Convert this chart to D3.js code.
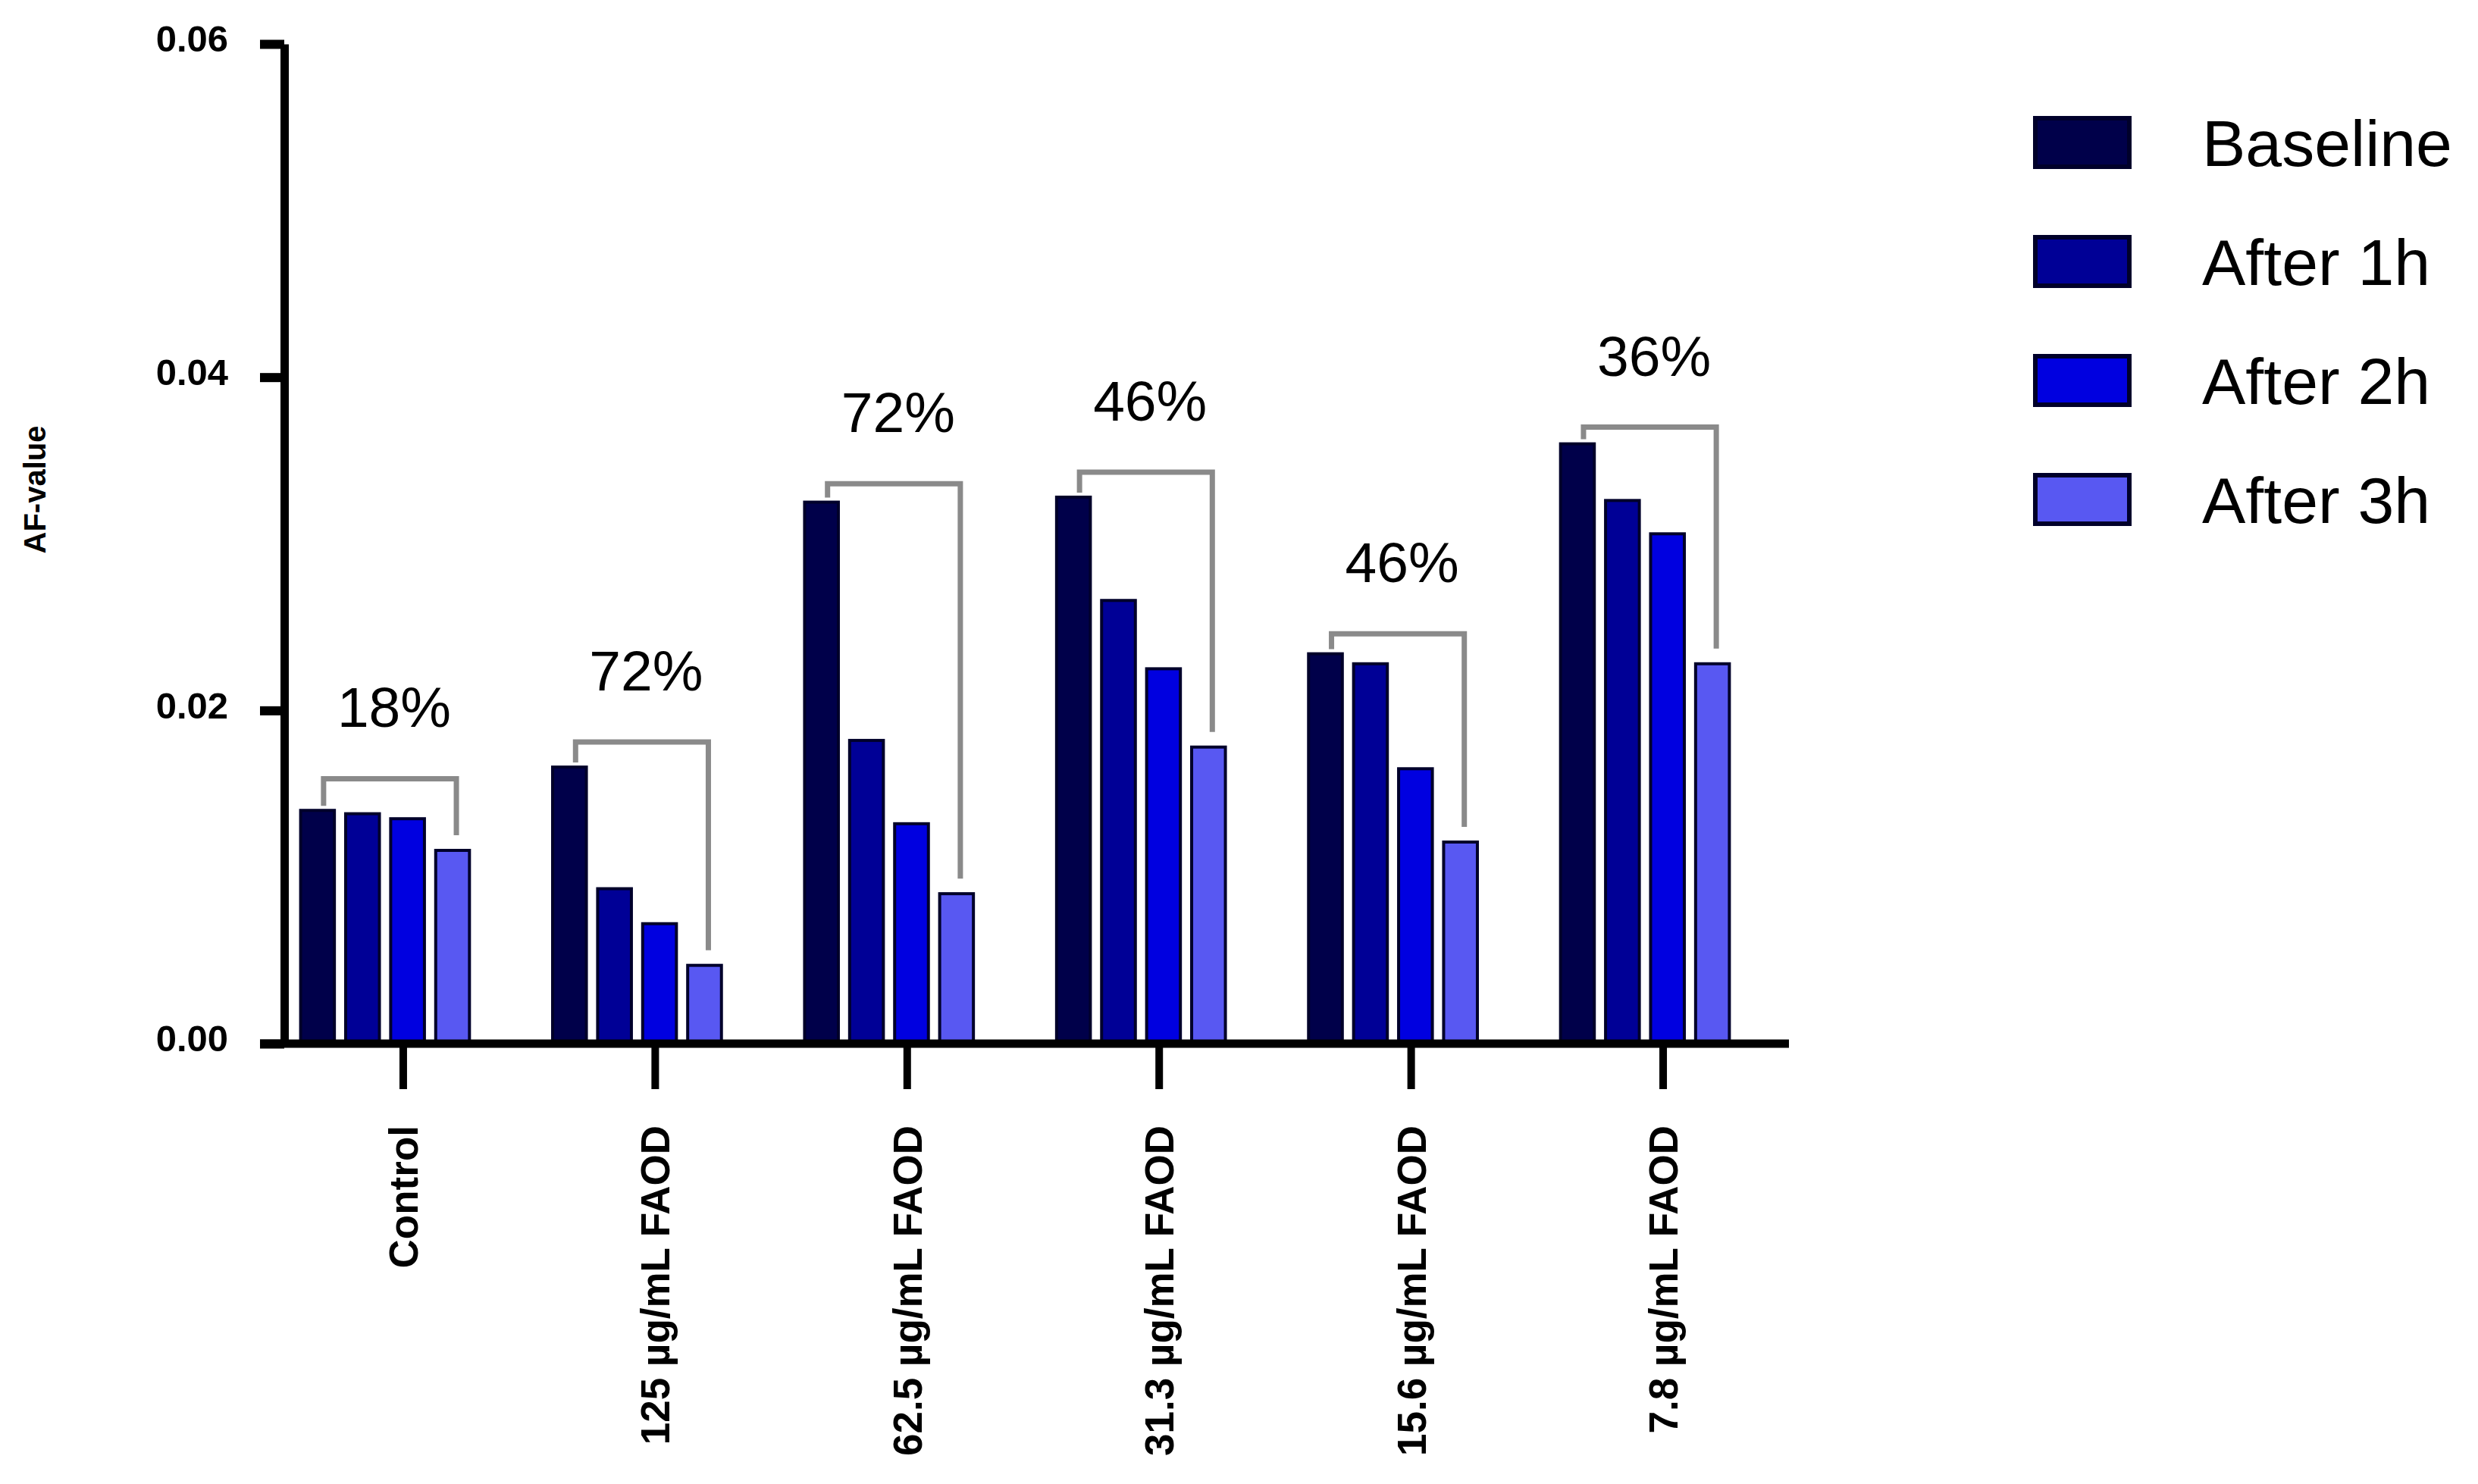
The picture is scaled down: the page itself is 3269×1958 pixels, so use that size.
<!DOCTYPE html>
<html>
<head>
<meta charset="utf-8">
<script src="https://cdn.jsdelivr.net/npm/d3@7"></script>
<style>
  html, body { margin: 0; padding: 0; background: #ffffff; }
  svg { display: block; }
</style>
</head>
<body>
<script>
// ---------------- data ----------------
const categories = ["Control", "125 µg/mL FAOD", "62.5 µg/mL FAOD", "31.3 µg/mL FAOD", "15.6 µg/mL FAOD", "7.8 µg/mL FAOD"];
const seriesNames = ["Baseline", "After 1h", "After 2h", "After 3h"];
const baseline = [0.0140, 0.0166, 0.0325, 0.0328, 0.0234, 0.0360];
const after1h  = [0.0138, 0.0093, 0.0182, 0.0266, 0.0228, 0.0326];
const after2h  = [0.0135, 0.0072, 0.0132, 0.0225, 0.0165, 0.0306];
const after3h  = [0.0116, 0.0047, 0.0090, 0.0178, 0.0121, 0.0228];
const reductionLabels = ["18%", "72%", "72%", "46%", "46%", "36%"];
const bracketLevels = [0.0159, 0.0181, 0.0336, 0.0343, 0.0246, 0.0370];
const yTicks = [0, 0.02, 0.04, 0.06];
const yTickLabels = ["0.00", "0.02", "0.04", "0.06"];
const yTitle = "AF-value";

const seriesValues = [baseline, after1h, after2h, after3h];
const colors = ["#00004a", "#000096", "#0000e0", "#5858f2"];

// ---------------- layout ----------------
const W = 3269, H = 1958;
const axisX = 375;
const y0 = 1377, yTop = 58;
const tickLen = 32;

const svg = d3.select("body").append("svg")
  .attr("width", W).attr("height", H)
  .style("background", "#fff");

const y = d3.scaleLinear().domain([0, 0.06]).range([y0, yTop]);

const x = d3.scaleBand()
  .domain(categories)
  .range([341.75, 2336.25])
  .paddingInner(0.33)
  .paddingOuter(0.165);

const xs = d3.scaleBand()
  .domain(seriesNames)
  .range([0, x.bandwidth()])
  .paddingInner(0.25)
  .paddingOuter(0);

// ---------------- bars ----------------
const groups = svg.append("g").selectAll("g")
  .data(categories)
  .join("g")
  .attr("transform", d => `translate(${x(d)},0)`);

groups.selectAll("rect")
  .data((d, i) => seriesNames.map((s, k) => ({ s, k, v: seriesValues[k][i] })))
  .join("rect")
  .attr("x", d => xs(d.s))
  .attr("width", xs.bandwidth())
  .attr("y", d => y(d.v))
  .attr("height", d => y0 - y(d.v))
  .attr("fill", d => colors[d.k])
  .attr("stroke", "#00002a")
  .attr("stroke-width", 4);

// ---------------- brackets and percentages ----------------
const bracketG = svg.append("g");
categories.forEach((c, i) => {
  const lx = x(c) + xs(seriesNames[0]) + xs.bandwidth() / 2 + 8;
  const rx = x(c) + xs(seriesNames[3]) + xs.bandwidth() / 2 + 5;
  const top = y(bracketLevels[i]);
  const lBot = y(baseline[i]) - 6;
  const rBot = y(after3h[i]) - 20;
  bracketG.append("path")
    .attr("d", `M${lx},${lBot} L${lx},${top} L${rx},${top} L${rx},${rBot}`)
    .attr("fill", "none")
    .attr("stroke", "#8a8a8a")
    .attr("stroke-width", 7);
  bracketG.append("text")
    .attr("x", x(c) + x.bandwidth() / 2 + 12)
    .attr("y", top - 68)
    .attr("text-anchor", "middle")
    .attr("font-family", "Liberation Sans, Arial, sans-serif")
    .attr("font-size", 75)
    .attr("fill", "#000")
    .text(reductionLabels[i]);
});

// ---------------- y axis ----------------
const yAxis = svg.append("g")
  .attr("transform", `translate(${axisX},0)`)
  .call(d3.axisLeft(y).tickValues(yTicks).tickFormat((d, i) => yTickLabels[i]).tickSize(tickLen).tickSizeOuter(0).tickPadding(42));
yAxis.select(".domain").attr("stroke", "#000").attr("stroke-width", 11);
yAxis.selectAll(".tick line").attr("stroke", "#000").attr("stroke-width", 12);
yAxis.selectAll(".tick text")
  .attr("font-family", "Liberation Sans, Arial, sans-serif")
  .attr("font-weight", "bold")
  .attr("font-size", 49)
  .attr("fill", "#000")
  .attr("dy", "0.2em");

// ---------------- x axis ----------------
svg.append("line")
  .attr("x1", axisX - tickLen).attr("x2", 2360)
  .attr("y1", y0).attr("y2", y0)
  .attr("stroke", "#000").attr("stroke-width", 11);

const xAxis = svg.append("g")
  .attr("transform", `translate(24,${y0})`)
  .call(d3.axisBottom(x).tickSize(60).tickSizeOuter(0));
xAxis.select(".domain").remove();
xAxis.selectAll(".tick line").attr("stroke", "#000").attr("stroke-width", 10);
xAxis.selectAll(".tick text")
  .attr("transform", "rotate(-90)")
  .attr("x", -108)
  .attr("y", 0)
  .attr("dy", "0.36em")
  .attr("text-anchor", "end")
  .attr("font-family", "Liberation Sans, Arial, sans-serif")
  .attr("font-weight", "bold")
  .attr("font-size", 53)
  .attr("fill", "#000");

// ---------------- y title ----------------
svg.append("text")
  .attr("transform", `translate(60,646) rotate(-90)`)
  .attr("text-anchor", "middle")
  .attr("font-family", "Liberation Sans, Arial, sans-serif")
  .attr("font-weight", "bold")
  .attr("font-size", 40)
  .attr("fill", "#000")
  .text(yTitle);

// ---------------- legend ----------------
const legend = svg.append("g").selectAll("g")
  .data(seriesNames)
  .join("g")
  .attr("transform", (d, i) => `translate(2685,${188 + i * 157})`);
legend.append("rect")
  .attr("x", 0).attr("y", -32)
  .attr("width", 124).attr("height", 64)
  .attr("fill", (d, i) => colors[i])
  .attr("stroke", "#00002a")
  .attr("stroke-width", 6);
legend.append("text")
  .attr("x", 220).attr("y", 0)
  .attr("dy", "0.36em")
  .attr("font-family", "Liberation Sans, Arial, sans-serif")
  .attr("font-size", 86)
  .attr("fill", "#000")
  .text(d => d);
</script>
</body>
</html>
